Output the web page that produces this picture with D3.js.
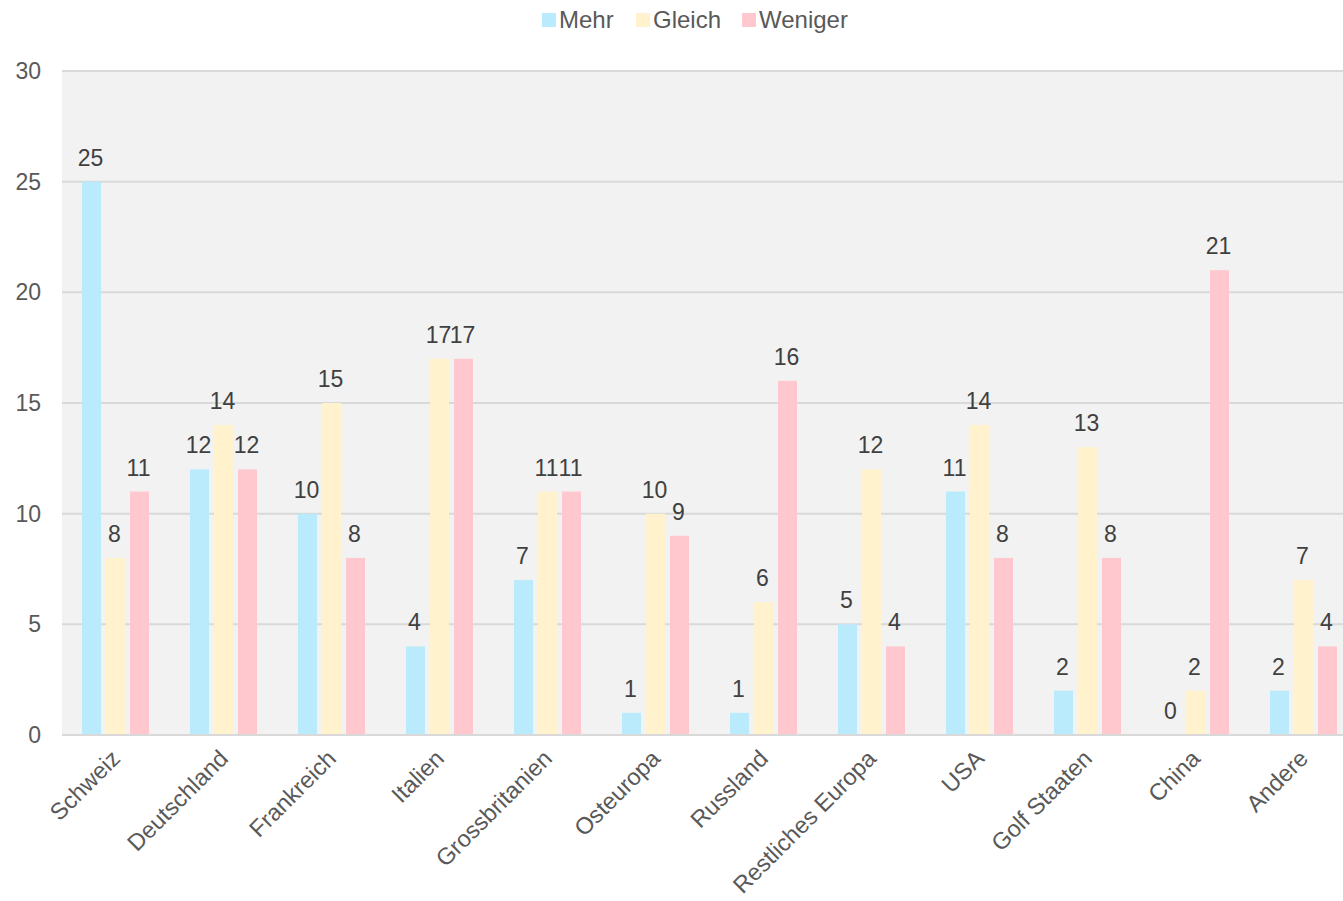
<!DOCTYPE html>
<html>
<head>
<meta charset="utf-8">
<script src="https://cdn.jsdelivr.net/npm/d3@7"></script>
<style>
  html, body { margin: 0; padding: 0; background: #ffffff; }
  svg { display: block; font-family: "Liberation Sans", Arial, sans-serif; }
</style>
</head>
<body>
<svg id="chart" width="1343" height="901"></svg>
<script>
// Länder / Regionen
const categories = ["Schweiz", "Deutschland", "Frankreich", "Italien", "Grossbritanien",
  "Osteuropa", "Russland", "Restliches Europa", "USA", "Golf Staaten", "China", "Andere"];

// Serien
const seriesNames = ["Mehr", "Gleich", "Weniger"];
const mehr    = [25, 12, 10, 4, 7, 1, 1, 5, 11, 2, 0, 2];
const gleich  = [8, 14, 15, 17, 11, 10, 6, 12, 14, 13, 2, 7];
const weniger = [11, 12, 8, 17, 11, 9, 16, 4, 8, 8, 21, 4];
const seriesValues = [mehr, gleich, weniger];
const seriesColors = ["#b9ebfc", "#fff2cc", "#ffc7ce"];

// Y-Achse
const yTicks = [0, 5, 10, 15, 20, 25, 30];

const svg = d3.select("#chart");
const W = 1343, H = 901;
const plotLeft = 62, plotTop = 71, plotBottom = 735;
const bandStep = 108;

// Die Kategorienachse läuft etwas über den rechten Rand hinaus
const x = d3.scaleBand().domain(categories)
  .range([plotLeft - 0.5, plotLeft - 0.5 + bandStep * categories.length]);
const y = d3.scaleLinear().domain([0, 30]).range([plotBottom, plotTop]);

const FS = 23;
const FS_LABEL = 23.5;

// Hintergrund der Zeichenfläche
svg.append("rect")
  .attr("x", plotLeft).attr("y", plotTop)
  .attr("width", W - plotLeft).attr("height", plotBottom - plotTop)
  .attr("fill", "#f2f2f2");

// Gitterlinien
svg.append("g").selectAll("line")
  .data(yTicks.filter(t => t > 0))
  .join("line")
  .attr("x1", plotLeft).attr("x2", W)
  .attr("y1", d => y(d)).attr("y2", d => y(d))
  .attr("stroke", "#d9d9d9").attr("stroke-width", 2);

// Y-Achsenbeschriftung
svg.append("g").selectAll("text")
  .data(yTicks)
  .join("text")
  .attr("x", 41).attr("y", d => y(d))
  .attr("dy", "0.35em")
  .attr("text-anchor", "end")
  .attr("font-size", FS)
  .attr("fill", "#595959")
  .text(d => d);

// Balken je Serie
const barW = 19, barStep = 24;
const groups = svg.append("g");
seriesValues.forEach((vals, si) => {
  const off = (si - 1) * barStep;
  const g = groups.append("g");
  g.selectAll("rect")
    .data(vals)
    .join("rect")
    .attr("x", (d, i) => x(categories[i]) + x.bandwidth() / 2 + off - barW / 2)
    .attr("y", d => y(d))
    .attr("width", barW)
    .attr("height", d => y(0) - y(d))
    .attr("fill", seriesColors[si]);
  g.selectAll("text")
    .data(vals)
    .join("text")
    .attr("x", (d, i) => x(categories[i]) + x.bandwidth() / 2 + off - 1)
    .attr("y", d => y(d) - 16)
    .attr("text-anchor", "middle")
    .attr("font-size", FS)
    .attr("fill", "#404040")
    .text(d => d);
});

// Nulllinie
svg.append("line")
  .attr("x1", plotLeft).attr("x2", W)
  .attr("y1", y(0)).attr("y2", y(0))
  .attr("stroke", "#d9d9d9").attr("stroke-width", 2);

// X-Achsenbeschriftung (gedreht)
svg.append("g").selectAll("text")
  .data(categories)
  .join("text")
  .attr("transform", d => `translate(${x(d) + x.bandwidth() / 2 + 6},${y(0) + 25}) rotate(-45)`)
  .attr("text-anchor", "end")
  .attr("font-size", FS_LABEL)
  .attr("fill", "#595959")
  .text(d => d);

// Legende
const legendX = [542, 636, 742];
const legend = svg.append("g");
seriesNames.forEach((name, i) => {
  legend.append("rect")
    .attr("x", legendX[i]).attr("y", 13)
    .attr("width", 14).attr("height", 14)
    .attr("fill", seriesColors[i]);
  legend.append("text")
    .attr("x", legendX[i] + 17).attr("y", 20)
    .attr("dy", "0.35em")
    .attr("font-size", 24)
    .attr("fill", "#595959")
    .text(name);
});
</script>
</body>
</html>
